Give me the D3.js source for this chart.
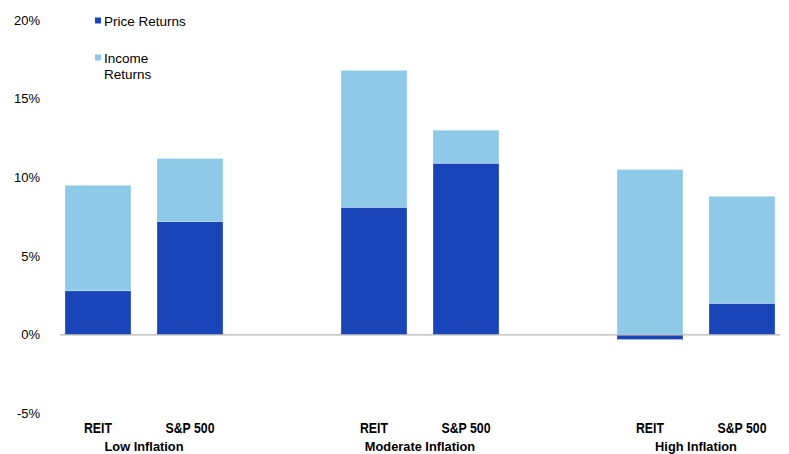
<!DOCTYPE html>
<html>
<head>
<meta charset="utf-8">
<script src="https://cdn.jsdelivr.net/npm/d3@7"></script>
<style>
  body { margin: 0; background: #fff; }
  text { font-family: "Liberation Sans", Arial, sans-serif; }
  .cat { font-family: "Liberation Sans Narrow", "Arial Narrow", "Liberation Sans", Arial, sans-serif; font-weight: bold; }
</style>
</head>
<body>
<svg id="chart" width="789" height="454"></svg>
<script>
// Data
const groups = ["Low Inflation", "Moderate Inflation", "High Inflation"];
const assets = ["REIT", "S&P 500"];
const priceReturns = [2.8, 7.2, 8.1, 10.9, -0.3, 2.0];
const incomeReturns = [6.7, 4.0, 8.7, 2.1, 10.5, 6.8];
const yTicks = [-5, 0, 5, 10, 15, 20];
const seriesNames = ["Price Returns", "Income Returns"];
const colors = ["#1a45b8", "#8ecae8"];

const svg = d3.select("#chart");

const rows = [];
groups.forEach((g, gi) => {
  assets.forEach((a, ai) => {
    const i = gi * assets.length + ai;
    rows.push({ group: g, asset: a, price: priceReturns[i], income: incomeReturns[i] });
  });
});

const y = d3.scaleLinear().domain([-5, 20]).range([413.5, 20]);

const x0 = d3.scaleBand().domain(groups).range([6, 834]);
const x1 = d3.scaleBand().domain(assets).range([0, x0.bandwidth()])
  .paddingInner(0.2826).paddingOuter(0.641);

const stack = d3.stack().keys(["price", "income"]).offset(d3.stackOffsetDiverging);
const stacked = stack(rows);

// Y axis labels
const yAxis = svg.append("g")
  .attr("transform", "translate(40,0)")
  .call(d3.axisLeft(y).tickValues(yTicks).tickSize(0).tickFormat(d => d + "%"));
yAxis.select(".domain").remove();
yAxis.selectAll("text")
  .attr("x", 0)
  .style("font-family", "'Liberation Sans', Arial, sans-serif")
  .style("font-size", "13px")
  .attr("fill", "#000");

// Bars
svg.append("g").selectAll("g")
  .data(stacked)
  .join("g")
  .attr("fill", (d, i) => colors[i])
  .selectAll("rect")
  .data(d => d)
  .join("rect")
  .attr("x", d => x0(d.data.group) + x1(d.data.asset))
  .attr("width", x1.bandwidth())
  .attr("y", d => y(Math.max(d[0], d[1])))
  .attr("height", d => Math.abs(y(d[0]) - y(d[1])))
  .attr("stroke", "rgba(255,255,255,0.35)")
  .attr("stroke-width", 0.8);

// Zero line
svg.append("line")
  .attr("x1", 60).attr("x2", 780)
  .attr("y1", y(0)).attr("y2", y(0))
  .attr("stroke", "#b5b5b5")
  .attr("stroke-width", 1.2);

// Category labels (condensed look)
const xAxis = svg.append("g");
rows.forEach(r => {
  const cx = x0(r.group) + x1(r.asset) + x1.bandwidth() / 2;
  xAxis.append("text")
    .attr("class", "cat")
    .attr("transform", `translate(${cx},432.5) scale(0.88,1)`)
    .attr("text-anchor", "middle")
    .style("font-size", "14px")
    .text(r.asset);
});
groups.forEach(g => {
  const cx = x0(g) + x0.bandwidth() / 2;
  xAxis.append("text")
    .attr("class", "cat")
    .attr("transform", `translate(${cx},450.5) scale(0.95,1)`)
    .attr("text-anchor", "middle")
    .style("font-size", "13.5px")
    .text(g);
});

// Legend
const legend = svg.append("g");
const legendY = [21, 58];
seriesNames.forEach((name, i) => {
  legend.append("rect")
    .attr("x", 95).attr("y", legendY[i] - 3.5)
    .attr("width", 6).attr("height", 6)
    .attr("fill", colors[i]);
  const words = i === 1 ? ["Income", "Returns"] : [name];
  words.forEach((w, j) => {
    legend.append("text")
      .attr("x", 104)
      .attr("y", legendY[i] + 4.5 + j * 16)
      .style("font-size", "13.5px")
      .text(w);
  });
});
</script>
</body>
</html>
